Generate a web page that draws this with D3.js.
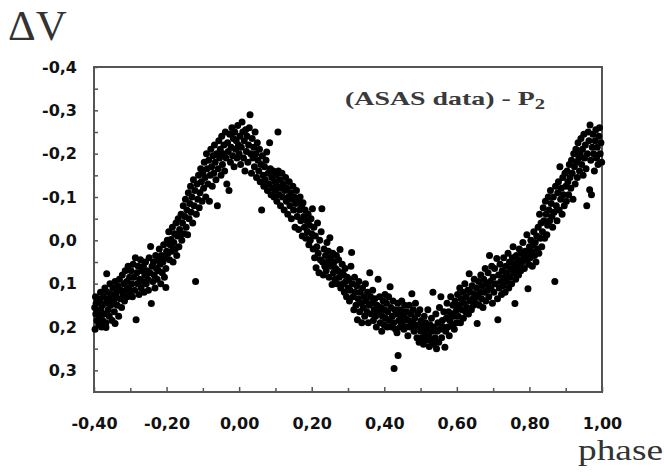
<!DOCTYPE html>
<html>
<head>
<meta charset="utf-8">
<script src="https://cdn.jsdelivr.net/npm/d3@7"></script>
<style>
  body { margin: 0; background: #fff; }
  svg { display: block; }
</style>
</head>
<body>
<div id="chart"></div>
<script>
// tick values
const xTicks = [-0.4, -0.2, 0, 0.2, 0.4, 0.6, 0.8, 1.0];
const xMinor = [-0.3, -0.1, 0.1, 0.3, 0.5, 0.7, 0.9];
const yTicks = [-0.4, -0.3, -0.2, -0.1, 0, 0.1, 0.2, 0.3];
const yMinor = [-0.35, -0.25, -0.15, -0.05, 0.05, 0.15, 0.25];

const risingLeft = [
  [-0.398,0.155],[-0.397,0.205],[-0.396,0.13],[-0.395,0.17],[-0.394,0.145],[-0.392,0.185],[-0.39,0.16],[-0.389,0.135],[-0.387,0.195],[-0.385,0.175],
  [-0.384,0.14],[-0.382,0.12],[-0.381,0.16],[-0.379,0.2],[-0.377,0.15],[-0.376,0.185],[-0.374,0.13],[-0.372,0.17],[-0.37,0.11],[-0.368,0.145],
  [-0.367,0.19],[-0.365,0.077],[-0.363,0.12],[-0.361,0.16],[-0.36,0.135],[-0.358,0.175],[-0.356,0.1],[-0.354,0.15],[-0.352,0.125],[-0.35,0.185],
  [-0.348,0.11],[-0.346,0.14],[-0.344,0.165],[-0.342,0.095],[-0.34,0.13],[-0.338,0.12],[-0.336,0.15],[-0.334,0.105],[-0.332,0.175],[-0.33,0.09],
  [-0.328,0.135],[-0.326,0.115],[-0.324,0.155],[-0.322,0.08],[-0.32,0.125],[-0.318,0.1],[-0.316,0.14],[-0.314,0.07],[-0.312,0.115],[-0.31,0.095],
  [-0.308,0.13],[-0.306,0.06],[-0.304,0.11],[-0.302,0.085],[-0.30,0.12],[-0.342,0.192],[-0.367,0.201],
  [-0.298,0.07],[-0.296,0.1],[-0.294,0.13],[-0.292,0.055],[-0.29,0.085],[-0.288,0.115],[-0.286,0.04],[-0.284,0.183],[-0.282,0.075],[-0.28,0.1],
  [-0.278,0.06],[-0.276,0.125],[-0.274,0.09],[-0.272,0.045],[-0.27,0.11],[-0.268,0.07],[-0.266,0.095],[-0.264,0.06],[-0.262,0.12],[-0.26,0.08],
  [-0.258,0.05],[-0.256,0.1],[-0.254,0.07],[-0.252,0.09],[-0.25,0.115],[-0.248,0.04],[-0.246,0.075],[-0.244,0.014],[-0.242,0.146],[-0.24,0.06],
  [-0.238,0.095],[-0.236,0.05],[-0.234,0.08],[-0.232,0.11],[-0.23,0.035],[-0.228,0.065],[-0.226,0.09],[-0.224,0.045],[-0.222,0.07],[-0.22,0.02],
  [-0.218,0.055],[-0.216,0.1],[-0.214,0.035],[-0.212,0.075],[-0.21,0.05],[-0.208,0.01],[-0.206,0.085],[-0.204,0.04],[-0.202,0.065],[-0.2,0.025],[-0.202,0.109],
  [-0.198,0.0],[-0.196,0.03],[-0.194,-0.02],[-0.192,0.045],[-0.19,0.01],[-0.188,-0.002],[-0.186,0.025],[-0.184,-0.03],[-0.182,0.05],[-0.18,0.005],
  [-0.178,-0.015],[-0.176,0.02],[-0.174,-0.04],[-0.172,0.035],[-0.17,-0.01],[-0.168,-0.05],[-0.166,0.015],[-0.164,-0.025],[-0.162,-0.013],[-0.16,-0.06],
  [-0.158,0.0],[-0.156,-0.04],[-0.154,-0.08],[-0.152,-0.015],[-0.15,-0.055],[-0.148,-0.095],[-0.146,-0.03],[-0.144,-0.07],[-0.142,-0.013],[-0.14,-0.11],
  [-0.138,-0.05],[-0.136,-0.085],[-0.134,-0.125],[-0.132,-0.065],[-0.13,-0.1],[-0.128,-0.04],[-0.126,-0.14],[-0.124,-0.08],[-0.122,-0.115],[-0.12,0.095],
  [-0.118,-0.06],[-0.116,-0.13],[-0.114,-0.095],[-0.112,-0.15],[-0.11,-0.075],[-0.108,-0.11],[-0.106,-0.165],[-0.104,-0.135],[-0.102,-0.09],[-0.1,-0.155],
  [-0.098,-0.12],[-0.096,-0.18],[-0.094,-0.145],[-0.092,-0.1],[-0.09,-0.2],[-0.088,-0.165],[-0.086,-0.13],[-0.084,-0.185],[-0.082,-0.09],[-0.08,-0.15],
  [-0.078,-0.21],[-0.076,-0.17],[-0.074,-0.125],[-0.072,-0.195],[-0.07,-0.155],[-0.068,-0.22],[-0.066,-0.18],[-0.064,-0.14],[-0.062,-0.2],[-0.06,-0.08],
  [-0.058,-0.165],[-0.056,-0.23],[-0.054,-0.19],[-0.052,-0.21],[-0.05,-0.15],[-0.048,-0.24],[-0.046,-0.175],[-0.044,-0.2],[-0.042,-0.22],[-0.04,-0.16],
  [-0.038,-0.25],[-0.036,-0.19],[-0.034,-0.13],[-0.032,-0.225],[-0.03,-0.205],[-0.028,-0.115],[-0.026,-0.245],[-0.024,-0.18],[-0.022,-0.215],[-0.02,-0.26],
  [-0.018,-0.195],[-0.016,-0.235],[-0.014,-0.17],[-0.012,-0.25],[-0.01,-0.21],[-0.008,-0.23],[-0.006,-0.19],[-0.004,-0.265],[-0.002,-0.22],[0.0,-0.2]
];

const fallingMid = [
  [0.002,-0.24],[0.004,-0.175],[0.006,-0.215],[0.008,-0.273],[0.01,-0.25],[0.012,-0.19],[0.014,-0.23],[0.016,-0.16],[0.018,-0.255],[0.02,-0.205],
  [0.022,-0.24],[0.024,-0.18],[0.026,-0.22],[0.028,-0.26],[0.03,-0.29],[0.032,-0.2],[0.034,-0.155],[0.036,-0.235],[0.038,-0.19],[0.04,-0.215],
  [0.042,-0.17],[0.044,-0.25],[0.046,-0.2],[0.048,-0.145],[0.05,-0.225],[0.052,-0.185],[0.054,-0.16],[0.056,-0.21],[0.058,-0.135],[0.06,-0.175],
  [0.062,-0.07],[0.064,-0.195],[0.066,-0.15],[0.068,-0.125],[0.07,-0.17],[0.072,-0.14],[0.074,-0.185],[0.076,-0.204],[0.078,-0.115],[0.08,-0.155],
  [0.082,-0.13],[0.084,-0.225],[0.086,-0.165],[0.088,-0.105],[0.09,-0.145],[0.092,-0.12],[0.094,-0.16],[0.096,-0.1],[0.098,-0.135],[0.1,-0.115],[0.107,-0.25],
  [0.102,-0.15],[0.104,-0.09],[0.106,-0.125],[0.108,-0.16],[0.11,-0.105],[0.112,-0.14],[0.114,-0.08],[0.116,-0.12],[0.118,-0.155],[0.12,-0.1],
  [0.122,-0.13],[0.124,-0.07],[0.126,-0.115],[0.128,-0.145],[0.13,-0.09],[0.132,-0.12],[0.134,-0.06],[0.136,-0.1],[0.138,-0.135],[0.14,-0.08],
  [0.142,-0.11],[0.144,-0.05],[0.146,-0.095],[0.148,-0.125],[0.15,-0.07],[0.152,-0.1],[0.154,-0.03],[0.156,-0.085],[0.158,-0.115],[0.16,-0.055],
  [0.162,-0.09],[0.164,-0.025],[0.166,-0.07],[0.168,-0.1],[0.17,-0.045],[0.172,-0.08],[0.174,-0.01],[0.176,-0.087],[0.178,-0.055],[0.18,-0.03],
  [0.182,-0.07],[0.184,-0.005],[0.186,-0.045],[0.188,-0.02],[0.19,-0.06],[0.192,0.01],[0.194,-0.035],[0.196,0.0],[0.198,-0.05],[0.2,-0.015],
  [0.202,-0.073],[0.204,0.02],[0.206,-0.03],[0.208,0.04],[0.21,-0.01],[0.212,0.063],[0.214,0.015],[0.216,-0.04],[0.218,0.03],[0.22,0.075],
  [0.222,0.0],[0.224,0.045],[0.226,-0.02],[0.228,-0.073],[0.23,0.05],[0.232,0.08],[0.234,0.02],[0.236,0.06],[0.238,0.035],[0.24,0.07],
  [0.242,0.005],[0.244,0.05],[0.246,0.025],[0.248,0.085],[0.25,-0.006],[0.252,0.04],[0.254,0.06],[0.256,0.102],[0.258,0.03],[0.26,0.075],
  [0.262,0.05],[0.264,0.09],[0.266,0.065],[0.268,0.035],[0.27,0.1],[0.272,0.07],[0.274,0.045],[0.276,0.085],[0.278,0.021],[0.28,0.11],
  [0.282,0.075],[0.284,0.055],[0.286,0.1],[0.288,0.08],[0.29,0.12],[0.292,0.065],[0.294,0.095],[0.296,0.13],[0.298,0.085],[0.3,0.11],
  [0.302,0.09],[0.304,0.14],[0.306,0.115],[0.308,0.06],[0.31,0.028],[0.312,0.1],[0.314,0.13],[0.316,0.16],[0.318,0.085],[0.32,0.12],
  [0.322,0.15],[0.324,0.105],[0.326,0.183],[0.328,0.135],[0.33,0.095],[0.332,0.165],[0.334,0.12],[0.336,0.145],[0.338,0.19],[0.34,0.11],
  [0.342,0.155],[0.344,0.13],[0.346,0.175],[0.348,0.1],[0.35,0.14],[0.352,0.165],[0.354,0.12],[0.356,0.19],[0.358,0.15],[0.36,0.075],
  [0.362,0.13],[0.364,0.17],[0.366,0.145],[0.368,0.115],[0.37,0.185],[0.372,0.16],[0.374,0.135],[0.376,0.175],[0.378,0.2],[0.38,0.15],
  [0.383,0.09],[0.385,0.165],[0.387,0.13],[0.389,0.19],[0.391,0.155],[0.393,0.21],[0.395,0.175],[0.397,0.14],[0.399,0.195],[0.4,0.16],
  [0.402,0.125],[0.404,0.18],[0.406,0.145],[0.408,0.2],[0.41,0.165],[0.412,0.13],[0.414,0.185],[0.416,0.107],[0.418,0.155],[0.42,0.2],
  [0.422,0.175],[0.424,0.14],[0.426,0.19],[0.427,0.296],[0.429,0.16],[0.431,0.205],[0.433,0.17],[0.435,0.213],[0.437,0.145],[0.438,0.266],
  [0.44,0.185],[0.442,0.16],[0.444,0.2],[0.446,0.175],[0.448,0.14],[0.45,0.19],[0.452,0.165],[0.454,0.205],[0.456,0.15],[0.458,0.18],
  [0.46,0.2],[0.462,0.165],[0.465,0.22],[0.467,0.185],[0.469,0.15],[0.471,0.2],[0.473,0.17],[0.476,0.123],[0.478,0.19],[0.48,0.16],
  [0.482,0.21],[0.484,0.18],[0.486,0.145],[0.488,0.2],[0.49,0.225],[0.492,0.17],[0.494,0.195],[0.496,0.235],[0.498,0.16],[0.5,0.21]
];

const risingRight = [
  [0.502,0.185],[0.504,0.225],[0.506,0.2],[0.508,0.24],[0.51,0.175],[0.512,0.215],[0.514,0.19],[0.516,0.23],[0.518,0.205],[0.52,0.16],
  [0.522,0.22],[0.524,0.245],[0.526,0.195],[0.528,0.23],[0.53,0.18],[0.532,0.21],[0.534,0.12],[0.536,0.24],[0.538,0.2],[0.54,0.225],
  [0.542,0.17],[0.544,0.25],[0.546,0.21],[0.548,0.19],[0.55,0.235],[0.552,0.155],[0.554,0.205],[0.556,0.13],[0.558,0.225],[0.56,0.185],
  [0.562,0.2],[0.564,0.165],[0.567,0.247],[0.569,0.21],[0.571,0.18],[0.573,0.145],[0.575,0.2],[0.577,0.165],[0.579,0.22],[0.581,0.185],
  [0.583,0.13],[0.585,0.17],[0.587,0.195],[0.589,0.15],[0.591,0.175],[0.593,0.205],[0.595,0.14],[0.597,0.165],[0.599,0.19],[0.6,0.155],
  [0.602,0.125],[0.604,0.175],[0.606,0.15],[0.608,0.11],[0.61,0.19],[0.612,0.135],[0.614,0.16],[0.616,0.12],[0.618,0.18],[0.62,0.145],
  [0.622,0.1],[0.624,0.165],[0.626,0.13],[0.628,0.155],[0.63,0.115],[0.632,0.17],[0.634,0.077],[0.636,0.14],[0.638,0.12],[0.64,0.16],
  [0.642,0.105],[0.644,0.135],[0.646,0.15],[0.648,0.09],[0.65,0.125],[0.652,0.145],[0.654,0.11],[0.656,0.192],[0.658,0.13],[0.66,0.095],
  [0.662,0.15],[0.664,0.12],[0.666,0.08],[0.668,0.135],[0.67,0.105],[0.672,0.155],[0.674,0.09],[0.676,0.12],[0.678,0.065],[0.68,0.14],
  [0.682,0.1],[0.684,0.115],[0.686,0.075],[0.688,0.13],[0.69,0.035],[0.692,0.095],[0.694,0.11],[0.696,0.06],[0.698,0.145],[0.7,0.085],
  [0.702,0.12],[0.704,0.065],[0.706,0.1],[0.71,0.042],[0.712,0.135],[0.713,0.183],[0.715,0.08],[0.717,0.11],[0.719,0.055],[0.721,0.095],
  [0.723,0.125],[0.725,0.07],[0.727,0.105],[0.729,0.04],[0.731,0.085],[0.733,0.12],[0.735,0.06],[0.737,0.095],[0.739,0.075],[0.741,0.03],
  [0.743,0.11],[0.745,0.05],[0.747,0.085],[0.749,0.065],[0.751,0.1],[0.753,0.04],[0.755,0.015],[0.757,0.075],[0.759,0.055],[0.76,0.146],
  [0.762,0.09],[0.764,0.035],[0.766,0.065],[0.768,0.045],[0.77,0.08],[0.772,0.02],[0.774,0.055],[0.776,0.07],[0.778,0.03],[0.78,0.05],
  [0.782,0.005],[0.784,0.04],[0.786,0.065],[0.788,0.025],[0.79,0.045],[0.793,-0.013],[0.795,0.03],[0.796,0.112],[0.798,0.055],[0.8,0.015],
  [0.802,0.04],[0.804,0.0],[0.806,0.025],[0.808,0.06],[0.81,0.01],[0.812,-0.02],[0.814,0.035],[0.816,0.005],[0.818,0.05],[0.82,-0.01],
  [0.822,0.02],[0.824,-0.03],[0.826,0.03],[0.828,-0.06],[0.83,-0.005],[0.832,-0.04],[0.834,0.015],[0.836,-0.02],[0.838,-0.075],[0.84,-0.045],
  [0.842,-0.005],[0.844,-0.09],[0.846,-0.06],[0.848,-0.013],[0.85,-0.035],[0.852,-0.1],[0.854,-0.07],[0.856,-0.045],[0.858,-0.115],[0.86,-0.085],
  [0.862,-0.055],[0.864,-0.03],[0.866,-0.1],[0.868,-0.065],[0.87,0.095],[0.872,-0.125],[0.874,-0.08],[0.876,-0.045],[0.878,-0.11],[0.88,-0.135],
  [0.882,-0.07],[0.884,-0.17],[0.886,-0.095],[0.888,-0.12],[0.89,-0.06],[0.892,-0.145],[0.894,-0.105],[0.896,-0.08],[0.898,-0.155],[0.9,-0.125],
  [0.902,-0.09],[0.904,-0.16],[0.906,-0.135],[0.908,-0.105],[0.91,-0.175],[0.912,-0.145],[0.914,-0.12],[0.916,-0.185],[0.918,-0.155],[0.92,-0.095],
  [0.922,-0.2],[0.924,-0.17],[0.926,-0.13],[0.928,-0.21],[0.93,-0.18],[0.932,-0.145],[0.934,-0.225],[0.936,-0.19],[0.938,-0.16],[0.94,-0.2],
  [0.942,-0.235],[0.944,-0.175],[0.946,-0.21],[0.948,-0.15],[0.95,-0.245],[0.952,-0.19],[0.954,-0.22],[0.956,-0.165],[0.958,-0.08],[0.96,-0.2],
  [0.962,-0.25],[0.964,-0.23],[0.966,-0.117],[0.967,-0.266],[0.969,-0.185],[0.971,-0.105],[0.973,-0.215],[0.975,-0.245],[0.977,-0.2],[0.979,-0.16],
  [0.981,-0.23],[0.983,-0.255],[0.985,-0.19],[0.987,-0.215],[0.989,-0.175],[0.991,-0.24],[0.993,-0.26],[0.995,-0.2],[0.997,-0.225],[0.999,-0.18]
];

const allObs = risingLeft.concat(fallingMid, risingRight);

// Set up size
const svgWidth = 664;
const svgHeight = 476;
const plot = { left: 94, right: 602, top: 67, bottom: 392 };

const svg = d3.select("#chart")
  .append("svg")
  .attr("width", svgWidth)
  .attr("height", svgHeight);

// scales (y reversed: brighter upward)
const x = d3.scaleLinear().domain([-0.4, 1.0]).range([plot.left, plot.right]);
const y = d3.scaleLinear().domain([-0.4, 0.35]).range([plot.top, plot.bottom]);

const fmtX = d => (d < 0 ? "-" : "") + Math.abs(d).toFixed(2).replace(".", ",");
const fmtY = d => (d < 0 ? "-" : "") + Math.abs(d).toFixed(1).replace(".", ",");

const axisColor = "#555";
const labelFont = "'DejaVu Sans', Verdana, sans-serif";
const serifFont = "'Liberation Serif', 'Times New Roman', serif";

// frame
svg.append("rect")
  .attr("x", plot.left)
  .attr("y", plot.top)
  .attr("width", plot.right - plot.left)
  .attr("height", plot.bottom - plot.top)
  .attr("fill", "none")
  .attr("stroke", axisColor)
  .attr("stroke-width", 2);

// bottom axis, ticks pointing inward
svg.append("g")
  .attr("transform", `translate(0, ${plot.bottom})`)
  .call(d3.axisBottom(x).tickValues(xTicks).tickFormat(fmtX).tickSize(-5).tickSizeOuter(0).tickPadding(26));
svg.append("g")
  .attr("transform", `translate(0, ${plot.bottom})`)
  .call(d3.axisBottom(x).tickValues(xMinor).tickFormat("").tickSize(-4).tickSizeOuter(0));

// left axis
svg.append("g")
  .attr("transform", `translate(${plot.left}, 0)`)
  .call(d3.axisLeft(y).tickValues(yTicks).tickFormat(fmtY).tickSize(-4).tickSizeOuter(0).tickPadding(17));
svg.append("g")
  .attr("transform", `translate(${plot.left}, 0)`)
  .call(d3.axisLeft(y).tickValues(yMinor).tickFormat("").tickSize(-4).tickSizeOuter(0));

svg.selectAll(".domain").remove();
svg.selectAll(".tick line").attr("stroke", axisColor).attr("stroke-width", 1.5);
svg.selectAll(".tick text")
  .attr("fill", "#111")
  .style("font-family", labelFont)
  .style("font-weight", "bold")
  .style("font-size", "16px");

// points
svg.append("g")
  .selectAll("circle")
  .data(allObs)
  .join("circle")
  .attr("cx", d => x(d[0]))
  .attr("cy", d => y(d[1]))
  .attr("r", 3.5)
  .attr("fill", "#000");

// titles
svg.append("text")
  .attr("x", 8)
  .attr("y", 40)
  .attr("fill", "#333")
  .style("font-family", serifFont)
  .style("font-size", "43px")
  .text("ΔV");

svg.append("text")
  .attr("x", 578)
  .attr("y", 460)
  .attr("fill", "#333")
  .attr("textLength", 85)
  .attr("lengthAdjust", "spacingAndGlyphs")
  .style("font-family", serifFont)
  .style("font-size", "30px")
  .text("phase");

const title = svg.append("text")
  .attr("x", 345)
  .attr("y", 105)
  .attr("fill", "#3a3a3a")
  .attr("textLength", 200)
  .attr("lengthAdjust", "spacingAndGlyphs")
  .style("font-family", serifFont)
  .style("font-weight", "bold")
  .style("font-size", "19px");
title.append("tspan").text("(ASAS data) - P");
title.append("tspan").attr("dy", 4).style("font-size", "14px").text("2");
</script>
</body>
</html>
